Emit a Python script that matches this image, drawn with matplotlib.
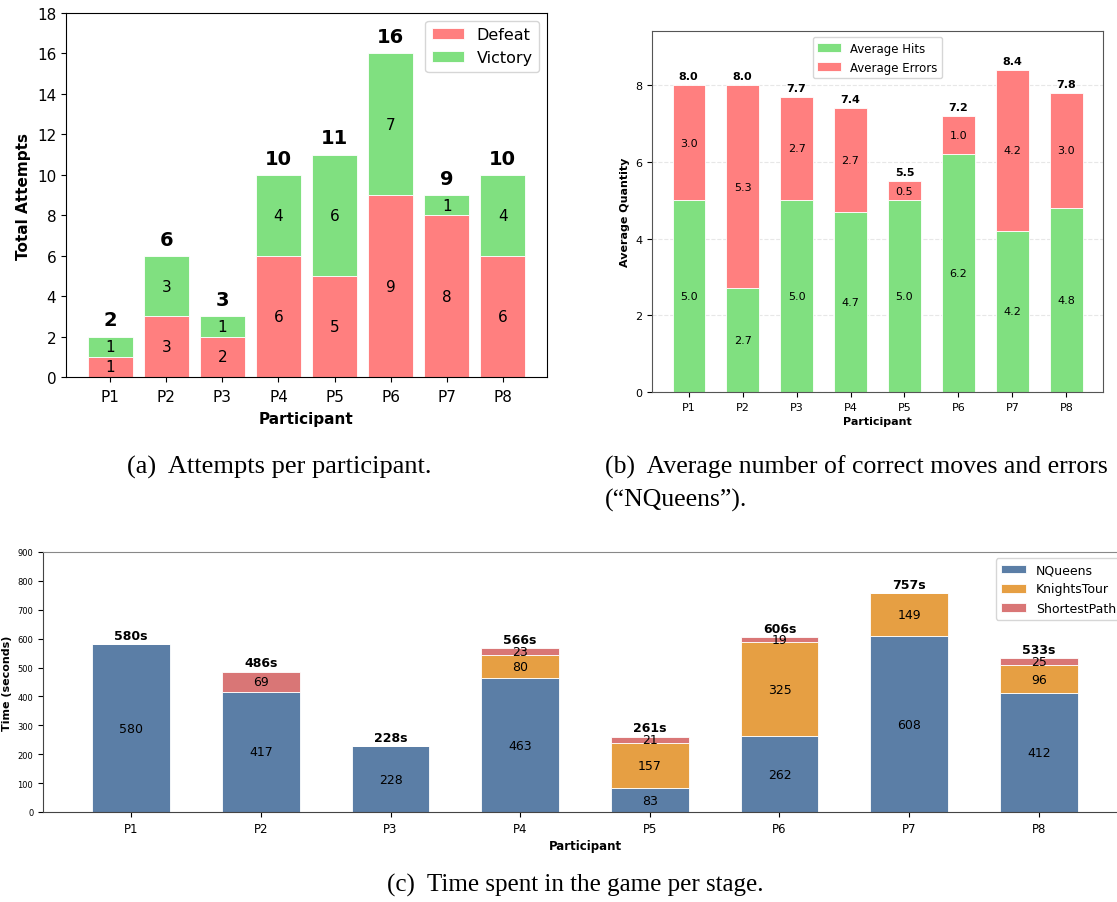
import matplotlib
matplotlib.use("Agg")
import matplotlib.pyplot as plt
import numpy as np

participants = ["P1", "P2", "P3", "P4", "P5", "P6", "P7", "P8"]

# attempts per participant
defeats = [1, 3, 2, 6, 5, 9, 8, 6]
victories = [1, 3, 1, 4, 6, 7, 1, 4]

# NQueens averages
avg_hits = [5.0, 2.7, 5.0, 4.7, 5.0, 6.2, 4.2, 4.8]
avg_errors = [3.0, 5.3, 2.7, 2.7, 0.5, 1.0, 4.2, 3.0]
avg_totals = [8.0, 8.0, 7.7, 7.4, 5.5, 7.2, 8.4, 7.8]

# time per stage (seconds)
nqueens = [580, 417, 228, 463, 83, 262, 608, 412]
knights = [0, 0, 0, 80, 157, 325, 149, 96]
shortest = [0, 69, 0, 23, 21, 19, 0, 25]

RED = "#FF7F7F"
GREEN = "#80E080"
BLUE = "#5B7EA6"
ORANGE = "#E69F43"
ROSE = "#D97676"

W, H = 1117, 903
fig = plt.figure(figsize=(W / 100, H / 100), dpi=100)


def box(left, top, right, bottom):
    return [left / W, 1 - bottom / H, (right - left) / W, (bottom - top) / H]


x = np.arange(len(participants))

# (a) attempts
ax1 = fig.add_axes(box(66, 14, 547, 378))
ax1.bar(x, defeats, 0.8, color=RED, edgecolor="white", linewidth=0.6, label="Defeat")
ax1.bar(x, victories, 0.8, bottom=defeats, color=GREEN, edgecolor="white",
        linewidth=0.6, label="Victory")
for i in x:
    ax1.text(i, defeats[i] / 2, str(defeats[i]), ha="center", va="center", fontsize=11)
    ax1.text(i, defeats[i] + victories[i] / 2, str(victories[i]), ha="center",
             va="center", fontsize=11)
    tot = defeats[i] + victories[i]
    ax1.text(i, tot + 0.35, str(tot), ha="center", va="bottom", fontsize=14,
             fontweight="bold")
ax1.set_ylim(0, 18)
ax1.set_yticks(range(0, 19, 2))
ax1.set_xticks(x)
ax1.set_xticklabels(participants)
ax1.tick_params(labelsize=11)
ax1.tick_params(axis="x", pad=5)
ax1.set_xlabel("Participant", fontsize=11, fontweight="bold", labelpad=5)
ax1.set_ylabel("Total Attempts", fontsize=11, fontweight="bold")
ax1.legend(loc="upper right", fontsize=11.5)

# (b) NQueens hits and errors
ax2 = fig.add_axes(box(652, 32, 1103, 393))
ax2.bar(x, avg_hits, 0.6, color=GREEN, edgecolor="white", linewidth=0.6,
        label="Average Hits")
ax2.bar(x, avg_errors, 0.6, bottom=avg_hits, color=RED, edgecolor="white",
        linewidth=0.6, label="Average Errors")
for i in x:
    ax2.text(i, avg_hits[i] / 2, f"{avg_hits[i]:.1f}", ha="center", va="center",
             fontsize=8)
    ax2.text(i, avg_hits[i] + avg_errors[i] / 2, f"{avg_errors[i]:.1f}",
             ha="center", va="center", fontsize=8)
    ax2.text(i, avg_totals[i] + 0.1, f"{avg_totals[i]:.1f}", ha="center",
             va="bottom", fontsize=8, fontweight="bold")
ax2.set_ylim(0, max(avg_totals) * 1.12)
ax2.set_yticks([0, 2, 4, 6, 8])
ax2.set_xticks(x)
ax2.set_xticklabels(participants)
ax2.tick_params(labelsize=8)
ax2.grid(axis="y", linestyle="--", alpha=0.3)
ax2.set_axisbelow(True)
ax2.set_xlabel("Participant", fontsize=8, fontweight="bold", labelpad=3)
ax2.set_ylabel("Average Quantity", fontsize=8, fontweight="bold")
ax2.legend(loc="upper center", fontsize=8.5)
for s in ax2.spines.values():
    s.set_color("#555555")

# (c) time per stage
ax3 = fig.add_axes(box(43, 553, 1127, 813))
ax3.bar(x, nqueens, 0.6, color=BLUE, edgecolor="white", linewidth=0.6, label="NQueens")
ax3.bar(x, knights, 0.6, bottom=nqueens, color=ORANGE, edgecolor="white",
        linewidth=0.6, label="KnightsTour")
base = np.array(nqueens) + np.array(knights)
ax3.bar(x, shortest, 0.6, bottom=base, color=ROSE, edgecolor="white",
        linewidth=0.6, label="ShortestPath")
for i in x:
    ax3.text(i, nqueens[i] / 2, str(nqueens[i]), ha="center", va="center", fontsize=9)
    if knights[i]:
        ax3.text(i, nqueens[i] + knights[i] / 2, str(knights[i]), ha="center",
                 va="center", fontsize=9)
    if shortest[i]:
        ax3.text(i, base[i] + shortest[i] / 2, str(shortest[i]), ha="center",
                 va="center", fontsize=9)
    tot = base[i] + shortest[i]
    ax3.text(i, tot + 8, f"{tot}s", ha="center", va="bottom", fontsize=9,
             fontweight="bold")
ax3.set_ylim(0, 900)
ax3.set_yticks(range(0, 901, 100))
ax3.set_xticks(x)
ax3.set_xticklabels(participants)
ax3.tick_params(axis="y", labelsize=6)
ax3.tick_params(axis="x", labelsize=8.5)
ax3.set_xlabel("Participant", fontsize=8.5, fontweight="bold", labelpad=3)
ax3.set_ylabel("Time (seconds)", fontsize=8, fontweight="bold")
ax3.legend(loc="upper right", fontsize=9)
for s in ax3.spines.values():
    s.set_color("#444444")
ax3.spines["top"].set_color("#888888")

# subfigure captions
serif = "Liberation Serif"
fig.text(127 / W, 1 - 467 / H, "(a)  Attempts per participant.", family=serif,
         fontsize=19, va="center")
fig.text(605 / W, 1 - 467 / H, "(b)  Average number of correct moves and errors",
         family=serif, fontsize=18.5, va="center")
fig.text(605 / W, 1 - 500 / H, "(\u201cNQueens\u201d).", family=serif, fontsize=18.5,
         va="center")
fig.text(575 / W, 1 - 885 / H, "(c)  Time spent in the game per stage.", ha="center",
         family=serif, fontsize=18, va="center")

fig.savefig("out.png", dpi=100)
